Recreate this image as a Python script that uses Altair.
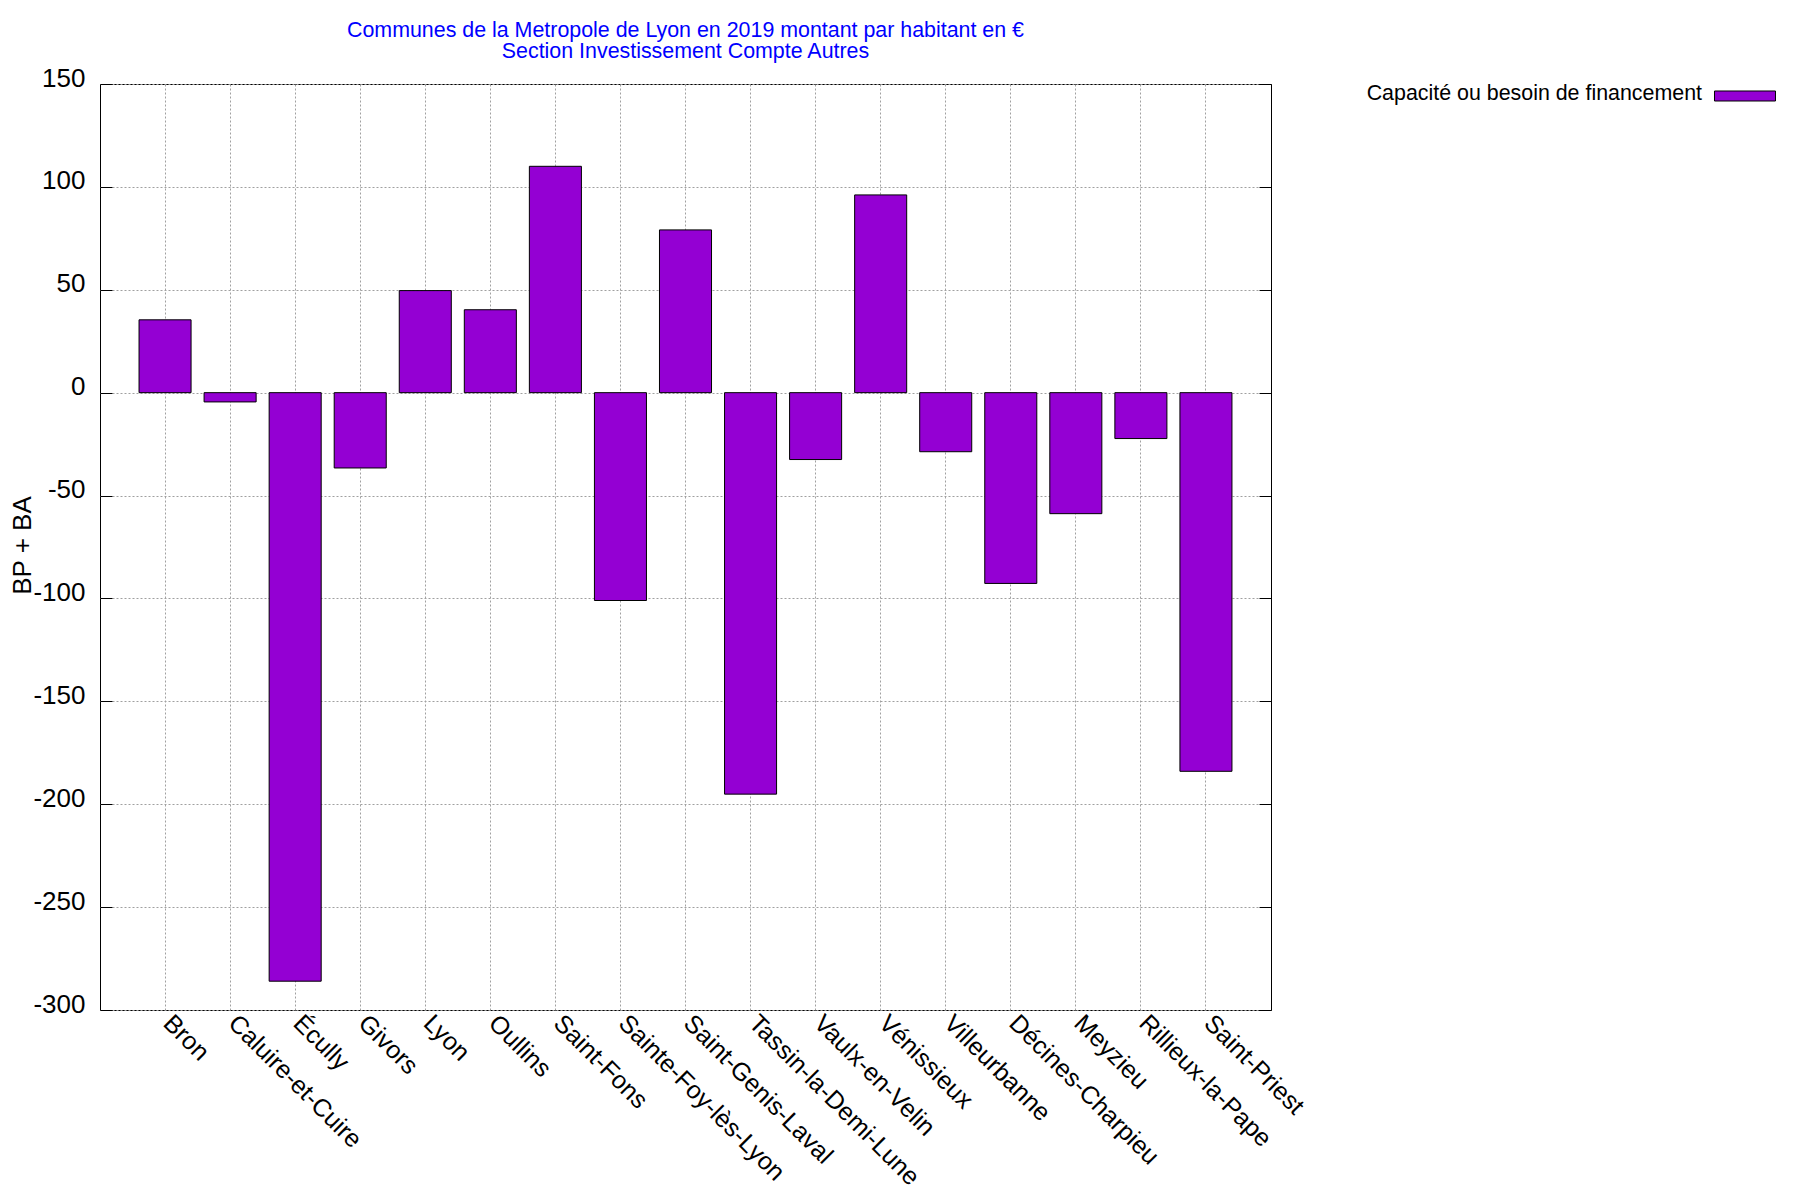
import altair as alt
import pandas as pd

communes = ["Bron", "Caluire-et-Cuire", "Écully", "Givors", "Lyon", "Oullins",
            "Saint-Fons", "Sainte-Foy-lès-Lyon", "Saint-Genis-Laval",
            "Tassin-la-Demi-Lune", "Vaulx-en-Velin", "Vénissieux", "Villeurbanne",
            "Décines-Charpieu", "Meyzieu", "Rillieux-la-Pape", "Saint-Priest"]
valeurs = [35.4, -4.5, -286.0, -36.6, 49.6, 40.3,
           110.0, -101.0, 79.1,
           -195.1, -32.5, 96.1, -28.7,
           -92.7, -58.8, -22.3, -184.0]
serie = "Capacité ou besoin de financement"
y_ticks = [-300, -250, -200, -150, -100, -50, 0, 50, 100, 150]
title_lines = ["Communes de la Metropole de Lyon en 2019 montant par habitant en €",
               "Section Investissement Compte Autres"]
y_title = "BP + BA"

df = pd.DataFrame({"commune": communes, "valeur": valeurs, "serie": serie})

FONT = "Liberation Sans"
GRID = "#a0a0a0"

x_scale = alt.Scale(paddingInner=0.2, paddingOuter=0.6)
y_scale = alt.Scale(domain=[-300, 150], nice=False, zero=False)

x_axis = alt.Axis(title=None, orient="bottom", labelAngle=45, labelAlign="left",
                  labelBaseline="top", labelOffset=11,
                  labelFontSize=25, labelFont=FONT, labelColor="black", labelPadding=0,
                  ticks=False, tickSize=0, domain=False, grid=True, gridColor=GRID,
                  gridDash=[2, 2], gridWidth=1, bandPosition=0.5, labelLimit=0)

y_axis_labels = alt.Axis(orient="left", values=y_ticks, title=y_title,
                         labelExpr="datum.value + ''", labelFontSize=26, labelFont=FONT,
                         labelColor="black", labelPadding=15, labelOffset=-6,
                         labelBaseline="middle",
                         ticks=False, tickSize=0, domain=False, grid=True,
                         gridColor=GRID, gridDash=[2, 2], gridWidth=1,
                         titleFont=FONT, titleFontSize=26, titleFontWeight="normal",
                         titleColor="black", titleAngle=-90, titleX=-78, titleY=461,
                         titleAlign="center", titleBaseline="middle")

y_axis_left_ticks = alt.Axis(orient="left", offset=-12, values=y_ticks, labels=False,
                             domain=False, grid=False, ticks=True, tickSize=12,
                             tickColor="black", tickWidth=1, title=None)
y_axis_right_ticks = alt.Axis(orient="right", offset=-12, values=y_ticks, labels=False,
                              domain=False, grid=False, ticks=True, tickSize=12,
                              tickColor="black", tickWidth=1, title=None)

legend = alt.Legend(title=None, orient="none", legendX=1540, legendY=-21.5,
                    symbolType="M1.426,-0.082H3.426V0.246H1.426Z", symbolSize=3721,
                    symbolStrokeColor="black", symbolStrokeWidth=1, symbolOpacity=1,
                    labelFontSize=21.4, labelFont=FONT, labelColor="black",
                    labelAlign="right", labelOffset=0, labelLimit=0,
                    labelBaseline="middle")

bars = alt.Chart(df).mark_bar(stroke="black", strokeWidth=1, opacity=1).encode(
    x=alt.X("commune:N", sort=communes, scale=x_scale, axis=x_axis),
    y=alt.Y("valeur:Q", scale=y_scale, axis=y_axis_labels),
    color=alt.Color("serie:N", scale=alt.Scale(domain=[serie], range=["#9400d3"]),
                    legend=legend),
)

left_ticks = alt.Chart(df).mark_point(opacity=0).encode(
    y=alt.Y("valeur:Q", scale=y_scale, axis=y_axis_left_ticks),
)
right_ticks = alt.Chart(df).mark_point(opacity=0).encode(
    y=alt.Y("valeur:Q", scale=y_scale, axis=y_axis_right_ticks),
)

chart = alt.layer(bars, left_ticks, right_ticks).resolve_scale(
    y="shared"
).resolve_axis(y="independent").properties(
    width=1171,
    height=926,
    autosize=alt.AutoSizeParams(type="none"),
    padding={"left": 92, "top": 76, "right": 521, "bottom": 182},
    title=alt.TitleParams(text=title_lines, fontSize=21.4, color="blue", font=FONT,
                          fontWeight="normal", anchor="middle", lineHeight=21,
                          offset=0.5, frame="group"),
    background="white",
).configure_view(stroke="black", strokeWidth=1)

chart.save("out.html", embed_options={"renderer": "svg", "actions": False})
